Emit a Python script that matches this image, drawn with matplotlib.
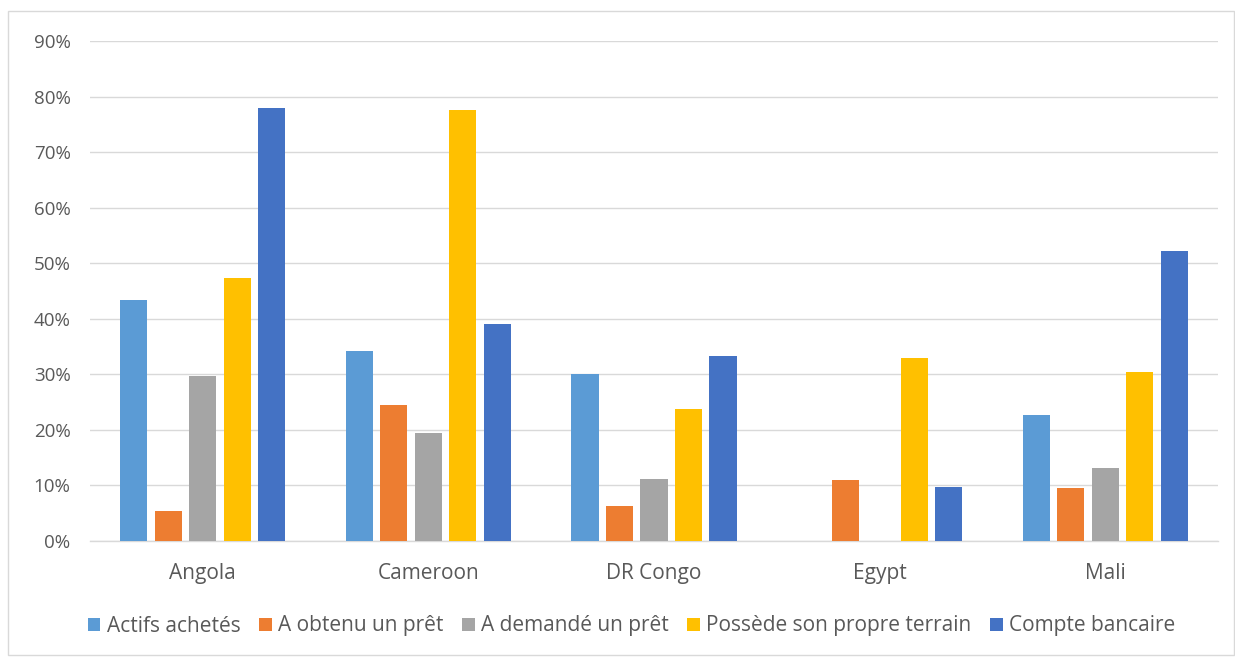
import matplotlib
matplotlib.use("Agg")
import matplotlib.pyplot as plt
import numpy as np
from matplotlib.patches import Rectangle

plt.rcParams['font.family'] = ['Open Sans', 'DejaVu Sans']

countries = ["Angola", "Cameroon", "DR Congo", "Egypt", "Mali"]
series_names = ["Actifs achetés", "A obtenu un prêt", "A demandé un prêt",
                "Possède son propre terrain", "Compte bancaire"]
actifs = [43.3, 34.2, 30.1, np.nan, 22.7]
pret_obtenu = [5.4, 24.4, 6.3, 10.9, 9.5]
pret_demande = [29.7, 19.5, 11.1, np.nan, 13.1]
terrain = [47.3, 77.6, 23.8, 32.9, 30.4]
compte = [77.9, 39.1, 33.3, 9.8, 52.2]
yticks = [0, 10, 20, 30, 40, 50, 60, 70, 80, 90]

colors = ["#5b9bd5", "#ed7d31", "#a5a5a5", "#ffc000", "#4472c4"]
all_series = [actifs, pret_obtenu, pret_demande, terrain, compte]

fig = plt.figure(figsize=(12.35, 6.57), dpi=100)
ax = fig.add_axes([90 / 1235, 1 - 541 / 657, 1128 / 1235, 500 / 657])

# outer chart frame
fig.patches.append(Rectangle((8 / 1235, 1 - 655 / 657), 1226 / 1235, 644 / 657,
                             transform=fig.transFigure, fill=False,
                             edgecolor="#d9d9d9", linewidth=1.0))

x = np.arange(len(countries))
width = 0.12
step = 0.153
for i, (vals, col, name) in enumerate(zip(all_series, colors, series_names)):
    offs = (i - 2) * step
    v = np.array(vals, dtype=float)
    ax.bar(x + offs, v, width=width, color=col, label=name, zorder=3)

ax.set_xlim(-0.5, len(countries) - 0.5)
ax.set_ylim(0, 90)
ax.set_yticks(yticks)
ax.set_yticklabels([f"{t}%" for t in yticks])
ax.set_xticks(x)
ax.set_xticklabels(countries)
ax.yaxis.grid(True, color="#d9d9d9", linewidth=1.0, zorder=0)
ax.set_axisbelow(True)
for s in ["top", "right", "left"]:
    ax.spines[s].set_visible(False)
ax.spines["bottom"].set_color("#d9d9d9")
ax.spines["bottom"].set_linewidth(1.0)
ax.tick_params(axis="y", length=0, labelsize=13.5, colors="#595959", pad=14)
ax.tick_params(axis="x", length=0, labelsize=15, colors="#595959", pad=16)

leg = fig.legend(loc="center", bbox_to_anchor=(0.5 + 14 / 1235, 1 - 626 / 657), ncol=5,
                 frameon=False, fontsize=15, handlelength=0.6, handleheight=0.6,
                 handletextpad=0.3, columnspacing=0.9)
for t in leg.get_texts():
    t.set_color("#595959")

fig.savefig("out.png", dpi=100)
